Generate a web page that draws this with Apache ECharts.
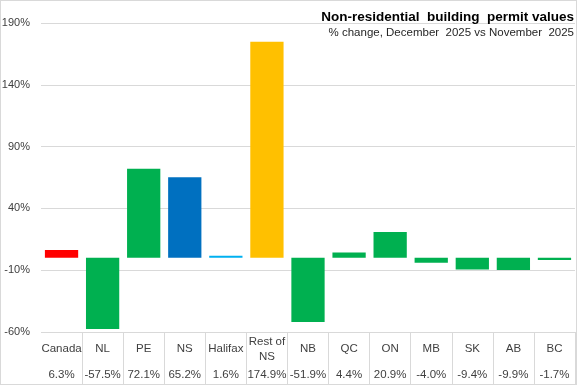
<!DOCTYPE html>
<html>
<head>
<meta charset="utf-8">
<script src="https://cdn.jsdelivr.net/npm/echarts@6/dist/echarts.min.js"></script>
<style>
html,body{margin:0;padding:0;background:#fff;}
#c{width:577px;height:385px;box-sizing:border-box;border:1px solid #d9d9d9;}
</style>
</head>
<body>
<div id="c"></div>
<script>
var categories = ['Canada','NL','PE','NS','Halifax','Rest of\nNS','NB','QC','ON','MB','SK','AB','BC'];
var values = [6.3,-57.5,72.1,65.2,1.6,174.9,-51.9,4.4,20.9,-4.0,-9.4,-9.9,-1.7];
var barColors = ['#FF0000','#00B050','#00B050','#0070C0','#00B0F0','#FFC000','#00B050','#00B050','#00B050','#00B050','#00B050','#00B050','#00B050'];
var yTicks = {min:-60, max:190, interval:50};
var titleText = 'Non-residential  building  permit values';
var subtitleText = '% change, December  2025 vs November  2025';

var FONT = 'Liberation Sans';
var chart = echarts.init(document.getElementById('c'));
chart.setOption({
  animation:false,
  textStyle:{fontFamily:FONT},
  title:[{
    text:titleText, right:2, top:9, padding:0,
    textStyle:{fontFamily:FONT, fontSize:13.5, fontWeight:'bold', color:'#000'}
  },{
    text:subtitleText, right:2, top:26, padding:0,
    textStyle:{fontFamily:FONT, fontSize:11.5, fontWeight:'normal', color:'#262626'}
  }],
  grid:{left:40, right:1, top:22, bottom:52, containLabel:false, outerBoundsMode:'none'},
  xAxis:[{
    type:'category', data:categories, position:'bottom',
    axisLine:{show:false, onZero:false},
    axisTick:{show:true, length:52, lineStyle:{color:'#d9d9d9'},
      interval:function(i){return i!==0;}},
    axisLabel:{interval:0, margin:17, verticalAlign:'middle', lineHeight:15,
      fontFamily:FONT, fontSize:11.5, color:'#404040'}
  },{
    type:'category', data:categories, position:'bottom', gridIndex:0,
    axisLine:{show:false, onZero:false}, axisTick:{show:false},
    axisLabel:{interval:0, margin:43, verticalAlign:'middle',
      fontFamily:FONT, fontSize:11.5, color:'#404040',
      formatter:function(v,i){return values[i].toFixed(1)+'%';}}
  }],
  yAxis:{
    type:'value', min:yTicks.min, max:yTicks.max, interval:yTicks.interval,
    axisLine:{show:false}, axisTick:{show:false},
    splitLine:{lineStyle:{color:'#d9d9d9'}},
    axisLabel:{margin:11, fontFamily:FONT, fontSize:11, color:'#404040',
      formatter:function(v){return v+'%';}}
  },
  series:[{
    type:'bar', xAxisIndex:0,
    data:values.map(function(v,i){return {value:v, itemStyle:{color:barColors[i]}};}),
    barCategoryGap:'19%'
  }]
});
</script>
</body>
</html>
